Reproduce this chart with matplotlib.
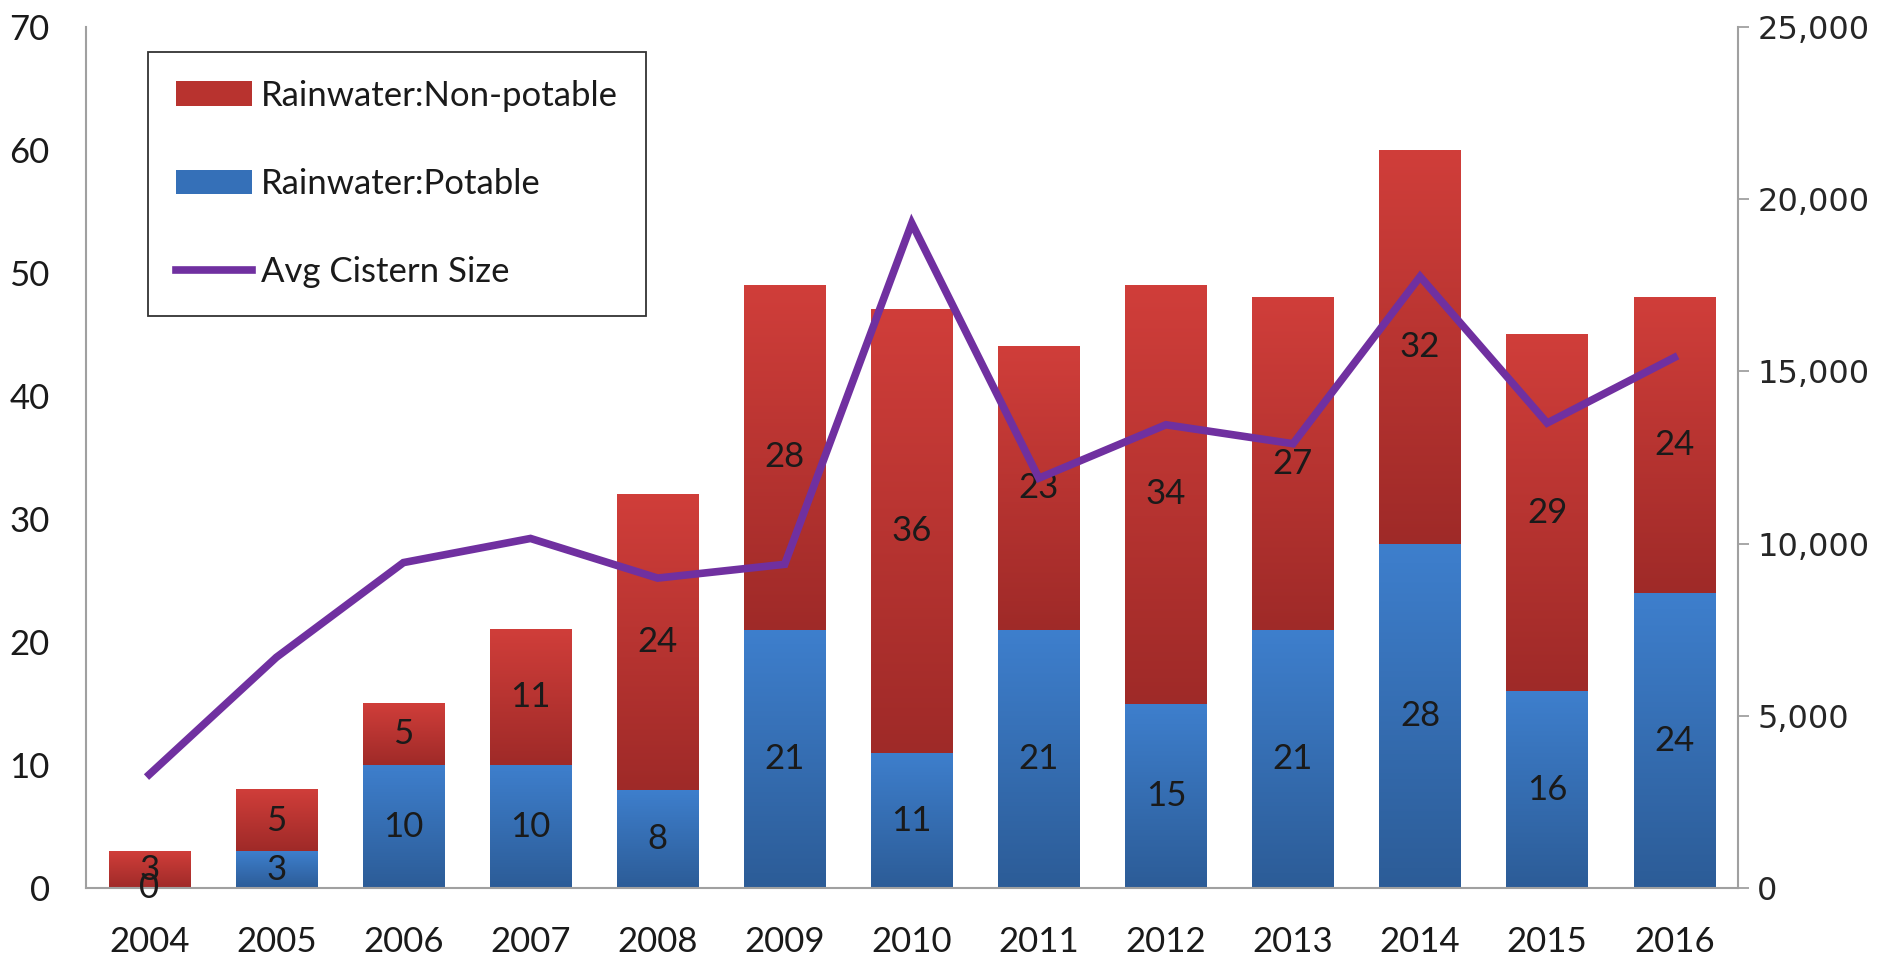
import numpy as np
import matplotlib
matplotlib.use("Agg")
import matplotlib.pyplot as plt
from matplotlib.colors import LinearSegmentedColormap
from matplotlib.patches import Patch
from matplotlib.lines import Line2D
from matplotlib.ticker import FuncFormatter

years = ["2004", "2005", "2006", "2007", "2008", "2009", "2010",
         "2011", "2012", "2013", "2014", "2015", "2016"]
potable = [0, 3, 10, 10, 8, 21, 11, 21, 15, 21, 28, 16, 24]
non_potable = [3, 5, 5, 11, 24, 28, 36, 23, 34, 27, 32, 29, 24]
avg_cistern = [3300, 6700, 9450, 10150, 9000, 9400, 19300,
               11900, 13450, 12900, 17750, 13500, 15400]

RED_TOP, RED_BOTTOM = "#d03e3a", "#9f2a28"
BLUE_TOP, BLUE_BOTTOM = "#3e7fcd", "#2c5c97"
PURPLE = "#7030a0"
LABEL_FONT = ["Lato", "DejaVu Sans"]
FS = 25


def gradient_bars(ax, x, heights, bottoms, width, top_color, bottom_color):
    cmap = LinearSegmentedColormap.from_list("grad", [bottom_color, top_color])
    grad = np.linspace(0, 1, 256).reshape(-1, 1)
    bars = ax.bar(x, heights, width, bottom=bottoms, color="none", edgecolor="none")
    for bar in bars:
        x0, y0 = bar.get_x(), bar.get_y()
        w, h = bar.get_width(), bar.get_height()
        if h <= 0:
            continue
        ax.imshow(grad, cmap=cmap, origin="lower", aspect="auto",
                  extent=(x0, x0 + w, y0, y0 + h), zorder=2)
    return bars


fig = plt.figure(figsize=(18.93, 9.57), dpi=100)
ax = fig.add_axes([0.0453, 0.0719, 0.8727, 0.9001])
ax2 = ax.twinx()

x = np.arange(len(years))
width = 0.64

gradient_bars(ax, x, potable, 0, width, BLUE_TOP, BLUE_BOTTOM)
gradient_bars(ax, x, non_potable, potable, width, RED_TOP, RED_BOTTOM)

# data labels centred in each segment
for i in range(len(years)):
    ax.text(x[i], potable[i] / 2, str(potable[i]), ha="center", va="center",
            fontsize=FS, family=LABEL_FONT, color="#1a1a1a", zorder=4)
    ax.text(x[i], potable[i] + non_potable[i] / 2, str(non_potable[i]),
            ha="center", va="center", fontsize=FS, family=LABEL_FONT,
            color="#1a1a1a", zorder=4)

ax2.plot(x, avg_cistern, color=PURPLE, lw=5.5, solid_joinstyle="miter", zorder=5)

ax.set_xlim(-0.5, 12.5)
ax.set_ylim(0, 70)
ax.set_yticks(range(0, 71, 10))
ax2.set_ylim(0, 25000)
ax2.set_yticks(range(0, 25001, 5000))
ax2.yaxis.set_major_formatter(FuncFormatter(lambda v, p: f"{int(v):,}"))

ax.set_xticks(x)
ax.set_xticklabels(years)
for lab in ax.get_xticklabels() + ax.get_yticklabels():
    lab.set_family(LABEL_FONT)
    lab.set_fontsize(FS)
    lab.set_color("#1a1a1a")
for lab in ax2.get_yticklabels():
    lab.set_family("DejaVu Sans")
    lab.set_fontsize(23)
    lab.set_color("#262626")

ax.tick_params(axis="x", length=0, pad=27)
ax.tick_params(axis="y", length=0, pad=26)
ax2.tick_params(axis="y", length=8, width=1.3, color="#a0a0a0", direction="out", pad=6)

for s in ["top", "right"]:
    ax.spines[s].set_visible(False)
for s in ["top", "left", "bottom"]:
    ax2.spines[s].set_visible(False)
for sp in [ax.spines["left"], ax.spines["bottom"], ax2.spines["right"]]:
    sp.set_color("#a0a0a0")
    sp.set_linewidth(1.5)

handles = [
    Patch(facecolor="#b8332f", edgecolor="none"),
    Patch(facecolor="#3570b8", edgecolor="none"),
    Line2D([0], [0], color=PURPLE, lw=5.5),
]
labels = ["Rainwater:Non-potable", "Rainwater:Potable", "Avg Cistern Size"]
leg = fig.legend(handles, labels, loc="upper left",
                 bbox_to_anchor=(148 / 1893, 1 - 52 / 957),
                 prop={"family": LABEL_FONT, "size": FS},
                 frameon=True, fancybox=False, edgecolor="black",
                 borderpad=0.8, labelspacing=1.62, handlelength=2.2,
                 handletextpad=0.25, borderaxespad=0)
leg.get_frame().set_linewidth(1.3)
for t in leg.get_texts():
    t.set_color("#1a1a1a")

fig.savefig("out.png", dpi=100)
